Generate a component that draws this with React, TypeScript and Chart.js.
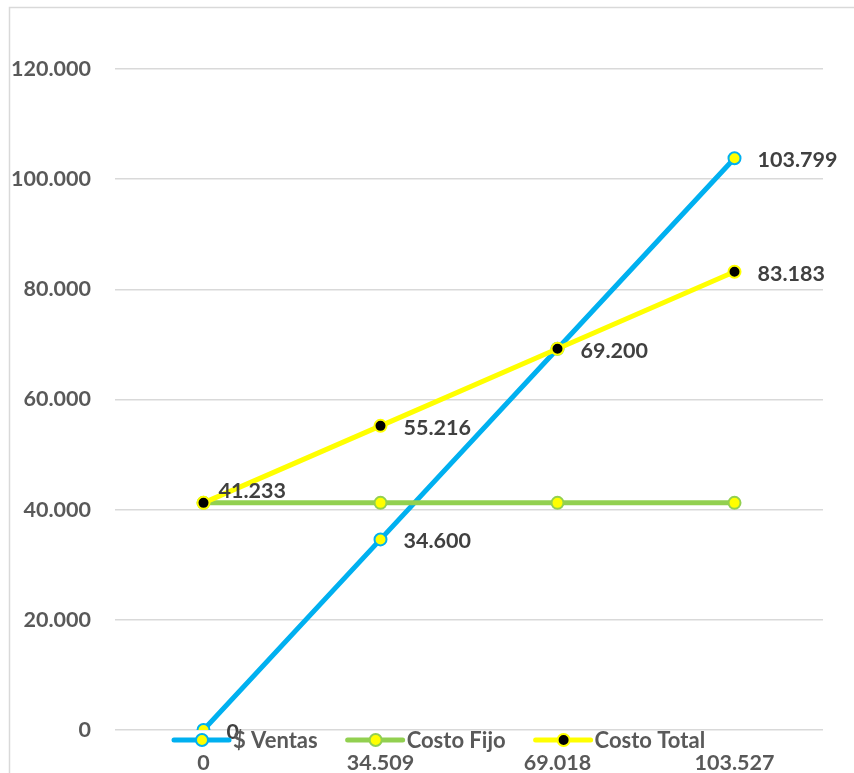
import { useEffect, useRef } from "react";
import { Chart, registerables } from "chart.js";

Chart.register(...registerables);

const categories = ["0", "34.509", "69.018", "103.527"];
const ventas = [0, 34600, 69200, 103799];
const costoFijo = [41233, 41233, 41233, 41233];
const costoTotal = [41233, 55216, 69200, 83183];
const seriesNames = ["$ Ventas", "Costo Fijo", "Costo Total"];
const yMin = 0;
const yMax = 120000;
const yStep = 20000;

const FONT = "Lato, 'Open Sans', 'DejaVu Sans', sans-serif";

const fmt = (v: number) =>
  String(Math.round(v)).replace(/\B(?=(\d{3})+(?!\d))/g, ".");

// which points get a data label, per dataset
const labelFlags: boolean[][] = [
  [true, true, false, true],
  [false, false, false, false],
  [true, true, true, true],
];

const borderPlugin = {
  id: "outerBorder",
  beforeDraw(chart: any) {
    const ctx = chart.ctx;
    ctx.save();
    ctx.fillStyle = "#ffffff";
    ctx.fillRect(0, 0, chart.width, chart.height);
    ctx.strokeStyle = "#D9D9D9";
    ctx.lineWidth = 1.5;
    ctx.strokeRect(9.5, 7.5, chart.width + 20, chart.height + 20);
    ctx.restore();
  },
};

const dataLabelPlugin = {
  id: "dataLabels",
  afterDatasetsDraw(chart: any) {
    const ctx = chart.ctx;
    ctx.save();
    ctx.font = `bold 21.5px ${FONT}`;
    ctx.fillStyle = "#404040";
    ctx.textAlign = "left";
    ctx.textBaseline = "middle";
    chart.data.datasets.forEach((ds: any, di: number) => {
      const meta = chart.getDatasetMeta(di);
      meta.data.forEach((pt: any, i: number) => {
        if (!labelFlags[di][i]) return;
        const v = ds.data[i] as number;
        let x = pt.x + 23;
        let y = pt.y + 2;
        if (di === 2 && i === 0) {
          x = pt.x + 15;
          y = pt.y - 12;
        }
        ctx.fillText(fmt(v), x, y);
      });
    });
    ctx.restore();
  },
};

const legendPlugin = {
  id: "excelLegend",
  afterDraw(chart: any) {
    const ctx = chart.ctx;
    ctx.save();
    ctx.font = `bold 22px ${FONT}`;
    ctx.textBaseline = "middle";
    ctx.textAlign = "left";
    const y = 740;
    let x = 174;
    chart.data.datasets.forEach((ds: any) => {
      ctx.strokeStyle = ds.borderColor;
      ctx.lineWidth = 5;
      ctx.lineCap = "round";
      ctx.beginPath();
      ctx.moveTo(x, y);
      ctx.lineTo(x + 55, y);
      ctx.stroke();
      ctx.beginPath();
      ctx.arc(x + 28, y, 6, 0, Math.PI * 2);
      ctx.fillStyle = ds.pointBackgroundColor;
      ctx.fill();
      ctx.lineWidth = 2;
      ctx.strokeStyle = ds.pointBorderColor;
      ctx.stroke();
      ctx.fillStyle = "#595959";
      ctx.fillText(ds.label, x + 59, y + 1);
      x += 59 + ctx.measureText(ds.label).width + 30;
    });
    ctx.restore();
  },
};

export default function App() {
  const ref = useRef<HTMLCanvasElement | null>(null);

  useEffect(() => {
    if (!ref.current) return;
    const chart = new Chart(ref.current, {
      type: "line",
      data: {
        labels: categories,
        datasets: [
          {
            label: seriesNames[0],
            data: ventas,
            borderColor: "#00B0F0",
            borderWidth: 5,
            pointBackgroundColor: "#FFFF00",
            pointBorderColor: "#00B0F0",
            pointBorderWidth: 2,
            pointRadius: 6,
            order: 3,
          },
          {
            label: seriesNames[1],
            data: costoFijo,
            borderColor: "#92D050",
            borderWidth: 5,
            pointBackgroundColor: "#FFFF00",
            pointBorderColor: "#92D050",
            pointBorderWidth: 2,
            pointRadius: 6,
            order: 2,
          },
          {
            label: seriesNames[2],
            data: costoTotal,
            borderColor: "#FFFF00",
            borderWidth: 5,
            pointBackgroundColor: "#000000",
            pointBorderColor: "#FFFF00",
            pointBorderWidth: 2,
            pointRadius: 6,
            order: 1,
          },
        ],
      },
      options: {
        responsive: false,
        animation: false,
        layout: { padding: { top: 69, right: 31, bottom: 0, left: 0 } },
        plugins: {
          legend: { display: false },
          tooltip: { enabled: false },
        },
        scales: {
          x: {
            offset: true,
            grid: { display: false, drawTicks: false },
            border: { display: false },
            ticks: {
              color: "#595959",
              font: { family: FONT, size: 21.5, weight: "bold" },
              padding: 20,
              maxRotation: 0,
            },
            afterFit: (s: any) => {
              s.height = 43;
            },
          },
          y: {
            min: yMin,
            max: yMax,
            grid: { color: "#D9D9D9", lineWidth: 1.5, drawTicks: false },
            border: { display: false },
            ticks: {
              stepSize: yStep,
              color: "#595959",
              font: { family: FONT, size: 21.5, weight: "bold" },
              padding: 24,
              callback: (v: any) => fmt(Number(v)),
            },
            afterFit: (s: any) => {
              s.width = 115;
            },
          },
        },
      },
      plugins: [borderPlugin, dataLabelPlugin, legendPlugin],
    });
    return () => chart.destroy();
  }, []);

  return (
    <div style={{ position: "absolute", left: 0, top: 0 }}>
      <canvas ref={ref} width={854} height={773} />
    </div>
  );
}
